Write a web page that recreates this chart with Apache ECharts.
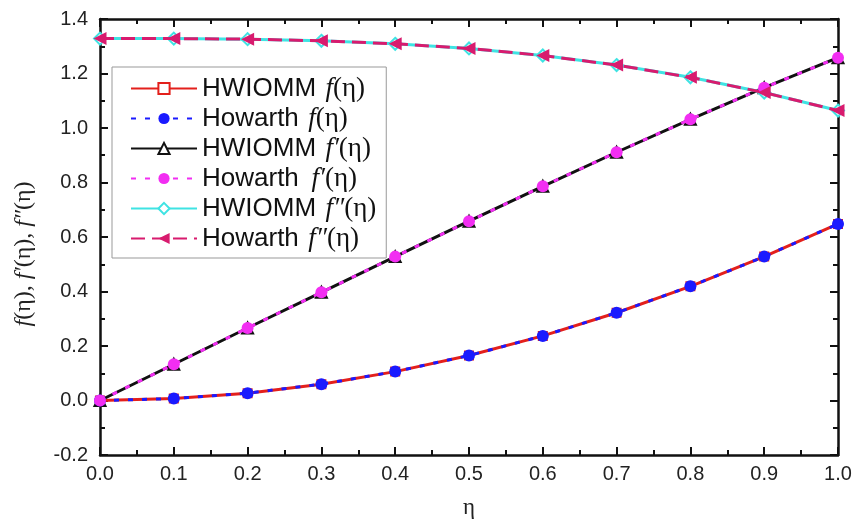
<!DOCTYPE html>
<html><head><meta charset="utf-8">
<script src="https://cdn.jsdelivr.net/npm/echarts@6/dist/echarts.min.js"></script>
<style>html,body{margin:0;padding:0;background:#fff}#c{width:857px;height:521px}</style>
</head><body><div id="c"></div>
<script>
const eta = [0.0,0.1,0.2,0.3,0.4,0.5,0.6,0.7,0.8,0.9,1.0];
const hwF   = [0.000,0.007,0.027,0.060,0.106,0.165,0.237,0.322,0.419,0.528,0.648];
const howF  = [0.000,0.007,0.027,0.060,0.106,0.165,0.237,0.322,0.419,0.528,0.648];
const hwF1  = [0.000,0.133,0.266,0.397,0.528,0.658,0.786,0.911,1.032,1.148,1.258];
const howF1 = [0.000,0.133,0.266,0.397,0.528,0.658,0.786,0.911,1.032,1.148,1.258];
const hwF2  = [1.328,1.328,1.326,1.320,1.309,1.292,1.266,1.231,1.186,1.130,1.064];
const howF2 = [1.328,1.328,1.326,1.320,1.309,1.292,1.266,1.231,1.186,1.130,1.064];
const names = ['HWIOMM f(η)','Howarth f(η)','HWIOMM f′(η)','Howarth f′(η)','HWIOMM f″(η)','Howarth f″(η)'];
const legendRich = {
  '0':'{a|HWIOMM} {i|f}{b|(η)}',
  '1':'{a|Howarth} {i|f}{b|(η)}',
  '2':'{a|HWIOMM} {i|f′}{b|(η)}',
  '3':'{a|Howarth}  {i|f′}{b|(η)}',
  '4':'{a|HWIOMM} {i|f″}{b|(η)}',
  '5':'{a|Howarth} {i|f″}{b|(η)}'
};
const yTitle = '{i|f}{r|(η), }{i|f′}{r|(η), }{i|f″}{r|(η)}';
const pts = a => eta.map((x,i)=>[x,a[i]]);
const chart = echarts.init(document.getElementById('c'));
const axisCommon = {
  type:'value', axisLine:{show:true,onZero:false,lineStyle:{color:'#111',width:2.5}},
  axisTick:{show:true,inside:true,length:8,lineStyle:{color:'#111',width:2}},
  minorTick:{show:true,splitNumber:2,length:5,lineStyle:{color:'#111',width:2}},
  splitLine:{show:false}
};
chart.setOption({
  backgroundColor:'#fff',
  animation:false,
  grid:{left:100,right:19,top:19,bottom:66,outerBoundsMode:'none',containLabel:false},
  xAxis:[
    Object.assign({},axisCommon,{min:0,max:1,interval:0.1,position:'bottom',
      name:'η',nameLocation:'middle',nameGap:41,
      nameTextStyle:{fontFamily:'Liberation Serif',fontSize:23,color:'#222'},
      axisLabel:{fontFamily:'Liberation Sans',fontSize:20,color:'#222',margin:9,formatter:v=>v.toFixed(1)}}),
    Object.assign({},axisCommon,{min:0,max:1,interval:0.1,position:'top',axisLabel:{show:false}})
  ],
  yAxis:[
    Object.assign({},axisCommon,{min:-0.2,max:1.4,interval:0.2,position:'left',
      axisLabel:{fontFamily:'Liberation Sans',fontSize:20,color:'#222',margin:12,formatter:v=>v.toFixed(1)}}),
    Object.assign({},axisCommon,{min:-0.2,max:1.4,interval:0.2,position:'right',axisLabel:{show:false}})
  ],
  graphic:[{
    type:'text', x:24, y:254, rotation:Math.PI/2,
    style:{text:yTitle, align:'center', verticalAlign:'middle',
      rich:{
        i:{fontFamily:'Liberation Serif',fontStyle:'italic',fontSize:24,fill:'#222'},
        r:{fontFamily:'Liberation Serif',fontSize:24,fill:'#222'}
      }}
  }],
  legend:{
    orient:'vertical',left:112,top:67,
    padding:[8,10,6,18],itemGap:3,itemWidth:66,itemHeight:14,
    borderColor:'#999',borderWidth:1,backgroundColor:'rgba(255,255,255,0)',
    data:names,
    formatter:n=>legendRich[names.indexOf(n)],
    textStyle:{rich:{
      a:{fontFamily:'Liberation Sans',fontSize:26,color:'#111',lineHeight:25},
      i:{fontFamily:'Liberation Serif',fontStyle:'italic',fontSize:27,color:'#111',lineHeight:25,padding:[0,0,0,6]},
      b:{fontFamily:'Liberation Serif',fontSize:27,color:'#111',lineHeight:25}
    }}
  },
  series:[
    {name:names[0],type:'line',data:pts(hwF),z:2,symbol:'emptyRect',symbolSize:8,
      lineStyle:{color:'#e3201c',width:3},itemStyle:{color:'#e3201c',borderWidth:1.5}},
    {name:names[1],type:'line',data:pts(howF),z:5,symbol:'circle',symbolSize:12,
      lineStyle:{color:'#1a1aff',width:3,type:[5,9]},itemStyle:{color:'#1a1aff'}},
    {name:names[2],type:'line',data:pts(hwF1),z:2,symbol:'emptyTriangle',symbolSize:11,
      lineStyle:{color:'#111',width:3},itemStyle:{color:'#111',borderWidth:1.5}},
    {name:names[3],type:'line',data:pts(howF1),z:5,symbol:'circle',symbolSize:12,
      lineStyle:{color:'#f22ef2',width:3,type:[5,9]},itemStyle:{color:'#f22ef2'}},
    {name:names[4],type:'line',data:pts(hwF2),z:2,symbol:'emptyDiamond',symbolSize:12,
      lineStyle:{color:'#3fe3e3',width:3},itemStyle:{color:'#3fe3e3',borderWidth:1.5}},
    {name:names[5],type:'line',data:pts(howF2),z:5,symbol:'path://M0,5 L10,0 L10,10 Z',symbolSize:13,
      lineStyle:{color:'#d81b6e',width:3,type:[14,7]},itemStyle:{color:'#d81b6e'}}
  ]
});
</script></body></html>
